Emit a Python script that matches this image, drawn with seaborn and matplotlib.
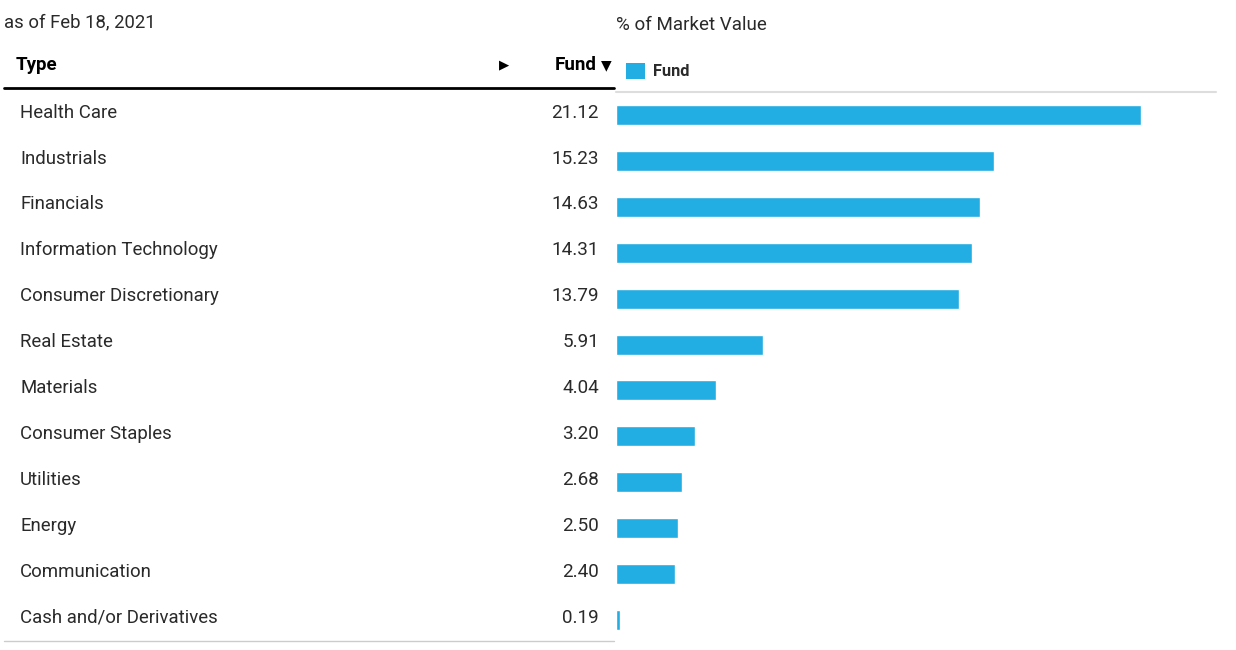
import matplotlib
matplotlib.use("Agg")
import matplotlib.pyplot as plt
import matplotlib.transforms as mtransforms
from matplotlib.lines import Line2D
from matplotlib.patches import Rectangle
import seaborn as sns
import pandas as pd

categories = ["Health Care", "Industrials", "Financials", "Information Technology",
              "Consumer Discretionary", "Real Estate", "Materials", "Consumer Staples",
              "Utilities", "Energy", "Communication", "Cash and/or Derivatives"]
fund_values = [21.12, 15.23, 14.63, 14.31, 13.79, 5.91, 4.04, 3.20, 2.68, 2.50, 2.40, 0.19]
value_labels = ["21.12", "15.23", "14.63", "14.31", "13.79", "5.91", "4.04", "3.20",
                "2.68", "2.50", "2.40", "0.19"]

sns.set_theme(style="white")
plt.rcParams["font.family"] = ["Roboto", "DejaVu Sans"]

BAR = "#22ADE3"
TXT = "#2a2a2a"

W, H = 1236, 650
fig = plt.figure(figsize=(W / 100, H / 100), dpi=100)

def fx(px):
    return px / W

def fy(py):
    return 1 - py / H

ax = fig.add_axes([fx(615.5), fy(643), fx(1216) - fx(615.5), fy(92) - fy(643)])
df = pd.DataFrame({"Type": categories, "Fund": fund_values})
sns.barplot(data=df, y="Type", x="Fund", orient="h", color=BAR, saturation=1,
            width=0.435, ax=ax)
ax.set_xlim(0, 600.5 / (525.5 / 21.12))
ax.set_ylim(len(categories) - 0.5, -0.5)
ax.axis("off")

# light gray line at top of chart area
fig.add_artist(Line2D([fx(616), fx(1216)], [fy(92), fy(92)], color="#dddddd", lw=1.5))

# table text aligned with bar rows
trans = mtransforms.blended_transform_factory(fig.transFigure, ax.transData)
for i, (cat, lab) in enumerate(zip(categories, value_labels)):
    ax.text(fx(20), i - 0.05, cat, transform=trans, ha="left", va="center",
            fontsize=13.4, color=TXT)
    ax.text(fx(599), i - 0.05, lab, transform=trans, ha="right", va="center",
            fontsize=13.6, color=TXT)

# headers
fig.text(fx(4), fy(22), "as of Feb 18, 2021", ha="left", va="center", fontsize=13.3, color=TXT)
fig.text(fx(616), fy(25), "% of Market Value", ha="left", va="center", fontsize=13.5, color=TXT)
fig.text(fx(16), fy(65), "Type", ha="left", va="center", fontsize=13.5, fontweight="bold", color="black")
fig.text(fx(504), fy(65), "\u25B6", ha="center", va="center", fontsize=9.5, color="black",
         family=["DejaVu Sans"])
fig.text(fx(597), fy(65), "Fund", ha="right", va="center", fontsize=13.5, fontweight="bold", color="black")
fig.text(fx(606), fy(65), "\u25BC", ha="center", va="center", fontsize=10, color="black",
         family=["DejaVu Sans"])

# legend
fig.add_artist(Rectangle((fx(626), fy(79)), fx(19), fy(63) - fy(79), transform=fig.transFigure,
                         color=BAR, lw=0))
fig.text(fx(653), fy(72), "Fund", ha="left", va="center", fontsize=11.8, fontweight="bold",
         color=TXT)

# table rules
fig.add_artist(Line2D([fx(4), fx(614)], [fy(88), fy(88)], color="black", lw=2))
fig.add_artist(Line2D([fx(4), fx(614)], [fy(641), fy(641)], color="#cccccc", lw=1))

fig.savefig("out.png", dpi=100)
